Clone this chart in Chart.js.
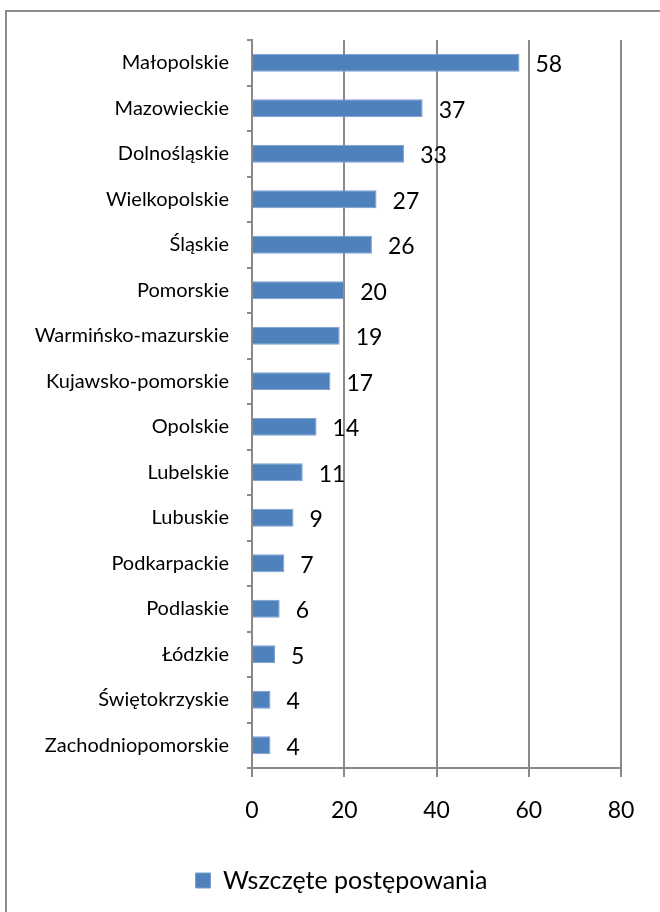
<!DOCTYPE html>
<html>
<head>
<meta charset="utf-8">
<script src="https://cdn.jsdelivr.net/npm/chart.js@4/dist/chart.umd.min.js"></script>
<style>
    body { margin: 0; background: #fff; }
    #wrap { width: 660px; height: 912px; position: relative; }
</style>
</head>
<body>
<div id="wrap"><canvas id="chart" width="660" height="912"></canvas></div>
<script>
const regions = [
    "Małopolskie", "Mazowieckie", "Dolnośląskie", "Wielkopolskie", "Śląskie",
    "Pomorskie", "Warmińsko-mazurskie", "Kujawsko-pomorskie", "Opolskie", "Lubelskie",
    "Lubuskie", "Podkarpackie", "Podlaskie", "Łódzkie", "Świętokrzyskie", "Zachodniopomorskie"
];
const cases = [58, 37, 33, 27, 26, 20, 19, 17, 14, 11, 9, 7, 6, 5, 4, 4];
const seriesName = "Wszczęte postępowania";
const xTicks = [0, 20, 40, 60, 80];

const FONT = "Lato, 'Open Sans', sans-serif";
const GRID = "#8a8a8a";

// frame around the chart, like the office chart border
const framePlugin = {
    id: "frame",
    beforeDraw(chart) {
        const ctx = chart.ctx;
        ctx.save();
        ctx.strokeStyle = "#8c8c8c";
        ctx.lineWidth = 2;
        ctx.strokeRect(6, 11, 720, 1000);
        ctx.restore();
        // legend sits a bit right of the canvas centre in the original
        if (!chart.$legendShifted) {
            chart.legend.left += 31;
            chart.legend.right += 31;
            chart.legend.adjustHitBoxes();
            chart.$legendShifted = true;
        }
    }
};

// value labels at the bar ends
const valueLabels = {
    id: "valueLabels",
    afterDatasetsDraw(chart) {
        const ctx = chart.ctx;
        const meta = chart.getDatasetMeta(0);
        ctx.save();
        ctx.font = "23px " + FONT;
        ctx.fillStyle = "#000";
        ctx.textBaseline = "middle";
        ctx.textAlign = "left";
        meta.data.forEach((bar, i) => {
            ctx.fillText(cases[i], bar.x + 16, bar.y + 2);
        });
        ctx.restore();
    }
};

new Chart(document.getElementById("chart").getContext("2d"), {
    type: "bar",
    data: {
        labels: regions,
        datasets: [{
            label: seriesName,
            data: cases,
            backgroundColor: "#4f81bd",
            borderColor: "#7a9fcf",
            borderWidth: 1,
            barPercentage: 0.4,
            categoryPercentage: 1
        }]
    },
    options: {
        indexAxis: "y",
        responsive: false,
        animation: false,
        layout: { padding: { top: 40, right: 39, bottom: 9, left: 0 } },
        scales: {
            x: {
                min: 0,
                max: 80,
                afterBuildTicks(scale) {
                    scale.ticks = xTicks.map(v => ({ value: v }));
                },
                afterFit(scale) { scale.height = 90; },
                grid: { color: GRID, lineWidth: 2, tickLength: 9, drawTicks: true },
                border: { color: GRID, width: 2 },
                ticks: { color: "#000", font: { family: FONT, size: 23 }, padding: 20 }
            },
            y: {
                afterFit(scale) { scale.width = 252; },
                grid: { display: true, drawOnChartArea: false, color: GRID, lineWidth: 2, tickLength: 5, offset: true },
                border: { color: GRID, width: 2 },
                ticks: { color: "#000", font: { family: FONT, size: 20 }, padding: 18, autoSkip: false }
            }
        },
        plugins: {
            legend: {
                position: "bottom",
                labels: {
                    color: "#000",
                    font: { family: FONT, size: 25 },
                    boxWidth: 15,
                    boxHeight: 15,
                    padding: 10
                }
            },
            tooltip: { enabled: false }
        }
    },
    plugins: [framePlugin, valueLabels]
});
</script>
</body>
</html>
